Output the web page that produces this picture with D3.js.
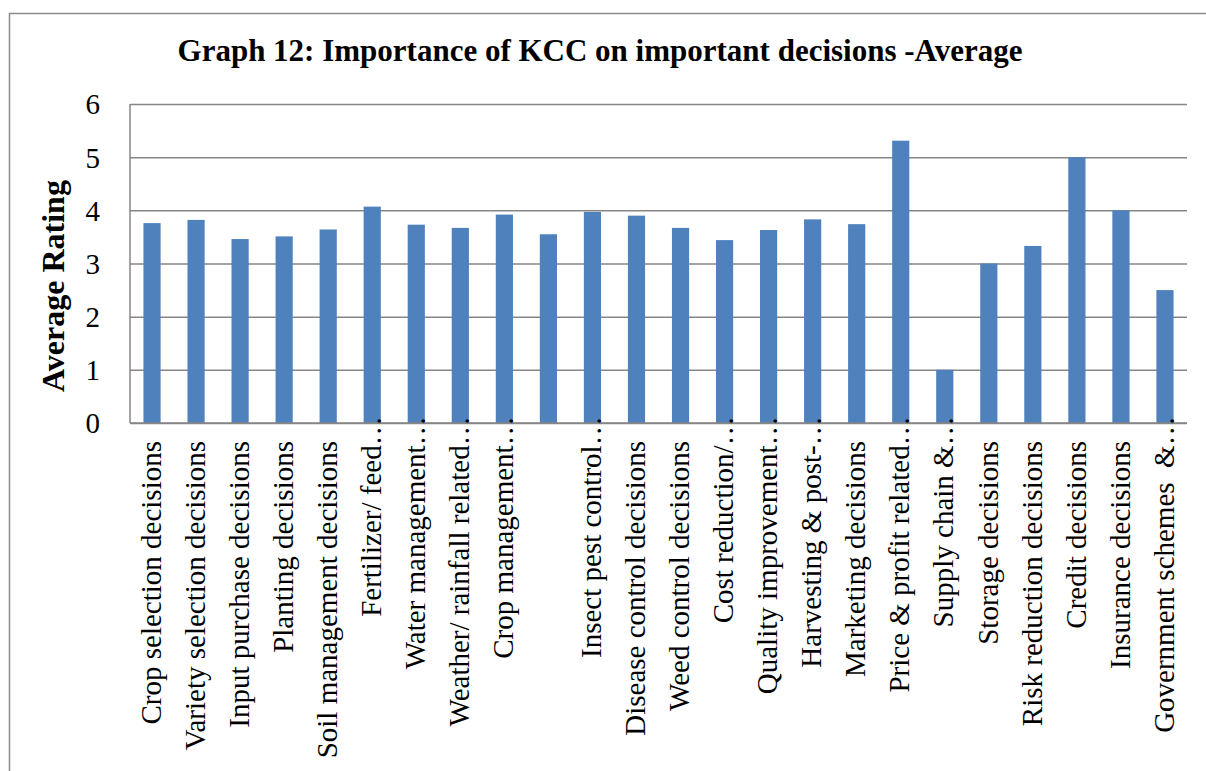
<!DOCTYPE html>
<html>
<head>
<meta charset="utf-8">
<script src="https://cdn.jsdelivr.net/npm/d3@7"></script>
<style>
    body { margin: 0; background: #ffffff; }
    text { font-family: "Liberation Serif", "Times New Roman", serif; fill: #000; }
</style>
</head>
<body>
<svg id="chart"></svg>
<script>
// Data
var categories = [
    "Crop selection decisions",
    "Variety selection decisions",
    "Input purchase decisions",
    "Planting decisions",
    "Soil management decisions",
    "Fertilizer/ feed\u2026",
    "Water management\u2026",
    "Weather/ rainfall related\u2026",
    "Crop management\u2026",
    "",
    "Insect pest control\u2026",
    "Disease control decisions",
    "Weed control decisions",
    "Cost reduction/\u2026",
    "Quality improvement\u2026",
    "Harvesting & post-\u2026",
    "Marketing decisions",
    "Price & profit related\u2026",
    "Supply chain &\u2026",
    "Storage decisions",
    "Risk reduction decisions",
    "Credit decisions",
    "Insurance decisions",
    "Government schemes  &\u2026"
];
var averages = [3.76, 3.82, 3.46, 3.51, 3.64, 4.07, 3.73, 3.67, 3.92, 3.55, 3.97, 3.90,
                3.67, 3.44, 3.63, 3.83, 3.74, 5.31, 1.00, 3.00, 3.33, 5.00, 4.00, 2.50];
var yTicks = [0, 1, 2, 3, 4, 5, 6];
var chartTitle = "Graph 12: Importance of KCC on important decisions -Average";
var yTitle = "Average Rating";

var w = 1206, h = 771;
var margin = { top: 104, right: 19, bottom: 348, left: 130 };
var width = w - margin.left - margin.right;
var height = h - margin.top - margin.bottom;
var labelSize = 29;
var gridColor = "#868686";

var svg = d3.select("#chart").attr("width", w).attr("height", h);

// outer frame of the chart object (runs off the right and bottom of the page)
svg.append("rect")
    .attr("x", 9.5).attr("y", 13.5)
    .attr("width", 1220).attr("height", 800)
    .attr("fill", "none")
    .attr("stroke", "#8c8c8c")
    .attr("stroke-width", 1.5);

var xscale = d3.scaleBand()
    .domain(d3.range(categories.length))
    .range([0, width])
    .paddingInner(0.61)
    .paddingOuter(0.305);
var yscale = d3.scaleLinear().domain([0, 6]).range([height, 0]);

var g = svg.append("g")
    .attr("transform", "translate(" + margin.left + "," + margin.top + ")");

// horizontal gridlines + y tick labels
var yAxis = d3.axisLeft(yscale)
    .tickValues(yTicks)
    .tickSize(-width)
    .tickPadding(30)
    .tickFormat(d3.format("d"));
var gY = g.append("g").attr("class", "axis axis--y").call(yAxis);
gY.select(".domain").remove();
gY.selectAll("line").attr("stroke", gridColor).attr("stroke-width", 1.5);
gY.selectAll("text")
    .style("font-family", "'Liberation Serif', serif")
    .style("font-size", labelSize + "px")
    .attr("fill", "#000")
    .attr("dy", "0.34em");

// left axis line
g.append("line")
    .attr("x1", 0).attr("x2", 0)
    .attr("y1", 0).attr("y2", height)
    .attr("stroke", gridColor).attr("stroke-width", 1.5);

// bars
g.selectAll(".bar")
    .data(averages)
    .enter().append("rect")
    .attr("class", "bar")
    .attr("x", (d, i) => xscale(i))
    .attr("y", d => yscale(d))
    .attr("width", xscale.bandwidth())
    .attr("height", d => height - yscale(d))
    .attr("fill", "#4f81bd");

// bottom axis line drawn over the bars
g.append("line")
    .attr("x1", 0).attr("x2", width)
    .attr("y1", height).attr("y2", height)
    .attr("stroke", gridColor).attr("stroke-width", 1.5);

// rotated category labels; the ellipsis of cut labels runs up past the axis
g.selectAll(".xlabel")
    .data(categories)
    .enter().append("text")
    .attr("class", "xlabel")
    .attr("transform", function (d, i) {
        var cx = xscale(i) + xscale.bandwidth() / 2;
        var cy = height + 18 - (d.endsWith("\u2026") ? labelSize * 0.85 : 0);
        return "translate(" + cx + "," + cy + ") rotate(-90)";
    })
    .attr("dy", "0.3em")
    .style("text-anchor", "end")
    .style("font-size", labelSize + "px")
    .style("white-space", "pre")
    .text(d => d);

// chart title
svg.append("text")
    .attr("x", 600)
    .attr("y", 61)
    .style("text-anchor", "middle")
    .style("font-weight", "bold")
    .style("font-size", "31px")
    .text(chartTitle);

// y axis title
svg.append("text")
    .attr("transform", "translate(64," + 286 + ") rotate(-90)")
    .style("text-anchor", "middle")
    .style("font-weight", "bold")
    .style("font-size", "32px")
    .text(yTitle);
</script>
</body>
</html>
